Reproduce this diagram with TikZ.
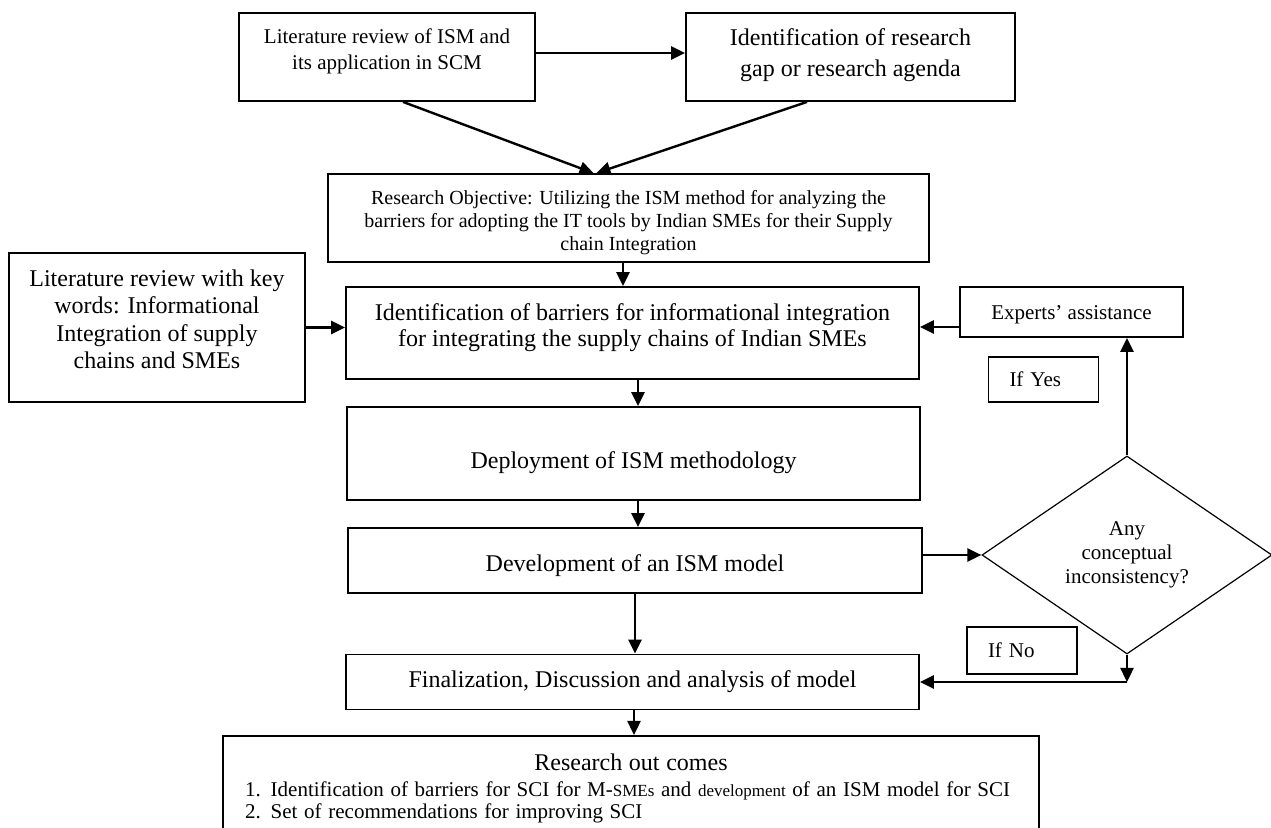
\documentclass[tikz,border=0pt]{standalone}
\usepackage{fontspec}
\setmainfont{Liberation Serif}
\usepackage{tikz}
\usetikzlibrary{shapes,arrows.meta,positioning}
\setlength{\parindent}{0pt}

\begin{document}
\begin{tikzpicture}[x=0.5pt, y=-0.5pt, node distance=60pt, >={Triangle[length=7pt,width=6.5pt]}]
    % Define styles
    \tikzstyle{stage} = [rectangle, draw=black, line width=0.9pt, inner sep=0pt, align=center]
    \tikzstyle{smallstage} = [stage, font=\fontsize{10.5}{13}\selectfont]
    \tikzstyle{bigstage} = [stage, font=\fontsize{12}{13.5}\selectfont]
    \tikzstyle{answer} = [stage, inner xsep=10.5pt, text width=34pt, align=left, minimum height=23pt, font=\fontsize{10.5}{12}\selectfont]
    \tikzstyle{decision} = [diamond, draw=black, line width=0.6pt, minimum width=145pt, minimum height=99pt, inner sep=0pt, align=center, font=\fontsize{10.5}{12}\selectfont]
    \tikzstyle{link} = [->, line width=1.2pt]

    \useasboundingbox (0,0) rectangle (1271,828);

    % Nodes
    \node[smallstage, minimum width=148pt, minimum height=44pt, text height=20.2pt, text depth=7.3pt] (litism) at (387,57) {Literature review of ISM and\\its application in SCM};
    \node[bigstage, right of=litism, xshift=171.75pt, minimum width=164.5pt, minimum height=44pt, font=\fontsize{12}{15.5}\selectfont, text height=23.7pt, text depth=4.6pt] (gap) {Identification of research\\gap or research agenda};
    \node[stage, below of=litism, xshift=120.75pt, yshift=-20.5pt, minimum width=300.5pt, minimum height=44pt, font=\fontsize{10}{11.5}\selectfont, text height=34.3pt, text depth=2.2pt] (resobj) {Research Objective: Utilizing the ISM method for analyzing the\\barriers for adopting the IT tools by Indian SMEs for their Supply\\chain Integration};
    \node[bigstage, below of=resobj, xshift=2pt, yshift=2.5pt, minimum width=286.5pt, minimum height=46pt, font=\fontsize{12}{13}\selectfont, text height=21.2pt, text depth=7.6pt] (ident) {Identification of barriers for informational integration\\for integrating the supply chains of Indian SMEs};
    \node[bigstage, left of=ident, xshift=-177.75pt, yshift=2.75pt, minimum width=148pt, minimum height=74.5pt, font=\fontsize{12}{13.7}\selectfont, text height=49.3pt, text depth=8pt] (litkey) {Literature review with key\\words: Informational\\Integration of supply\\chains and SMEs};
    \node[smallstage, right of=ident, xshift=159.5pt, yshift=10.5pt, minimum width=111.5pt, minimum height=25pt, text height=10.1pt, text depth=2.3pt] (experts) {Experts' assistance};
    \node[answer, below of=experts, xshift=-14pt, yshift=26.25pt, minimum height=22.5pt] (ifyes) {If Yes};
    \node[bigstage, below of=ident, xshift=0.5pt, yshift=-0.25pt, minimum width=286.5pt, minimum height=46.5pt, text height=17.2pt, text depth=2.6pt] (deploy) {Deployment of ISM methodology};
    \node[bigstage, below of=deploy, xshift=0.75pt, yshift=6.5pt, minimum width=287pt, minimum height=32.5pt, text height=13.2pt, text depth=2.6pt] (devel) {Development of an ISM model};
    \node[decision, right of=devel, xshift=186pt, yshift=2.75pt] (decide) {Any\\conceptual\\inconsistency?};
    \node[answer, below of=decide, xshift=-52.5pt, yshift=12.25pt, minimum height=23.5pt] (ifno) {If No};
    \node[bigstage, below of=devel, xshift=-1.25pt, yshift=-0.75pt, minimum width=286.5pt, minimum height=27.5pt] (final) {Finalization, Discussion and analysis of model};
    \node[stage, anchor=north, inner xsep=11pt, inner ysep=9pt, text width=386pt, align=left] (outcome) at (631,735) {{\fontsize{12}{13.5}\selectfont\centering Research out comes\par}\vspace{1.8pt}\fontsize{10.5}{11}\selectfont\raggedright 1. Identification of barriers for SCI for M-{\fontsize{8.5}{11}\selectfont SMEs} and {\fontsize{8.5}{11}\selectfont development} of an ISM model for SCI\par 2. Set of recommendations for improving SCI\par};
    \coordinate (nocorner) at (decide.south |- final.east);

    % Connections
    \draw[link] ([yshift=2pt]litism.east) -- ([yshift=2pt]gap.west);
    \draw[link] ([xshift=8pt]litism.south) -- ([xshift=-17.5pt]resobj.north);
    \draw[link] ([xshift=-21.75pt]gap.south) -- ([xshift=-16pt]resobj.north);
    \draw[link] ([xshift=-2.75pt]resobj.south) -- ([xshift=-2.75pt]resobj.south |- ident.north);
    \draw[link] (litkey.east) -- (litkey.east -| ident.west);
    \draw[link] ([yshift=-7.5pt]experts.west) -- ([yshift=-7.5pt]experts.west -| ident.east);
    \draw[link] ([xshift=2.75pt]ident.south) -- ([xshift=2.75pt]ident.south |- deploy.north);
    \draw[link] ([xshift=2.25pt]deploy.south) -- ([xshift=2.25pt]deploy.south |- devel.north);
    \draw[link] (devel.south) -- (devel.south |- final.north);
    \draw[link] ([xshift=0.75pt]final.south) -- ([xshift=0.75pt]final.south |- outcome.north);
    \draw[link] ([yshift=2.75pt]devel.east) -- (decide.west);
    \draw[link] (decide.north) -- (decide.north |- experts.south);
    \draw[link] (decide.south) -- (nocorner);
    \draw[link] (nocorner) -- (final.east);
\end{tikzpicture}
\end{document}
